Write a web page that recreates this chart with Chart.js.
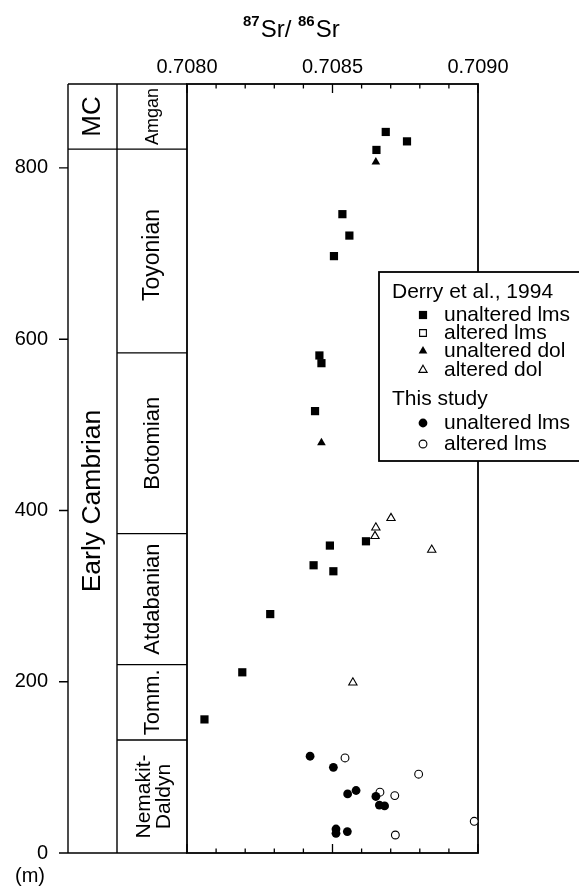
<!DOCTYPE html>
<html><head><meta charset="utf-8">
<script src="https://cdn.jsdelivr.net/npm/chart.js@4/dist/chart.umd.min.js"></script>
<style>html,body{margin:0;padding:0;background:#fff;overflow:hidden}</style>
</head><body>
<canvas id="c" width="579" height="886" style="width:579px;height:886px;display:block"></canvas>
<script>
// ---- axis ticks ----
const X_TICKS = [0.7080, 0.7085, 0.7090];
const X_MINOR = [0.7081, 0.7082, 0.7083, 0.7084, 0.7086, 0.7087, 0.7088, 0.7089];
const Y_TICKS = [0, 200, 400, 600, 800];
const X_MIN = 0.7080, X_MAX = 0.7090, Y_MIN = 0, Y_MAX = 898;

// ---- stratigraphic column (boundaries in m) ----
const STAGES = [['Amgan'], ['Toyonian'], ['Botomian'], ['Atdabanian'], ['Tomm.'], ['Nemakit-', 'Daldyn']];
const STAGE_BOUNDS = [898, 822, 584, 373, 220, 132, 0];
const ERAS = ['MC', 'Early Cambrian'];
const ERA_BOUNDS = [898, 822, 0];

// ---- data: Derry et al., 1994 ----
const derryUnaltLmsX = [0.708683, 0.708756, 0.708651, 0.708534, 0.708558, 0.708505, 0.708455, 0.708462, 0.708440, 0.708615, 0.708491, 0.708435, 0.708503, 0.708286, 0.708190, 0.708060];
const derryUnaltLmsY = [842, 831, 821, 746, 721, 697, 581, 572, 516, 364, 359, 336, 329, 279, 211, 156];
const derryAltLmsX = [];
const derryAltLmsY = [];
const derryUnaltDolX = [0.708649, 0.708462];
const derryUnaltDolY = [807, 479];
const derryAltDolX = [0.708701, 0.708649, 0.708646, 0.708841, 0.708570];
const derryAltDolY = [391, 380, 370, 354, 199];
// ---- data: This study ----
const studyUnaltLmsX = [0.708423, 0.708503, 0.708552, 0.708581, 0.708649, 0.708661, 0.708679, 0.708512, 0.708512, 0.708551];
const studyUnaltLmsY = [113, 100, 69, 73, 66, 56, 55, 28, 23, 25];
const studyAltLmsX = [0.708543, 0.708796, 0.708663, 0.708714, 0.708716, 0.708987];
const studyAltLmsY = [111, 92, 71, 67, 21, 37];

const FONT = '"Liberation Sans", Arial, Helvetica, sans-serif';
Chart.defaults.font.family = FONT;
Chart.defaults.color = '#000';

function pts(xs, ys) { return xs.map((x, i) => ({ x: x, y: ys[i] })); }

const STY = {
  sqF: { pointStyle: 'rect', radius: 5.8, backgroundColor: '#000', borderColor: '#000', borderWidth: 0 },
  sqO: { pointStyle: 'rect', radius: 4.8, backgroundColor: '#fff', borderColor: '#000', borderWidth: 1.1 },
  trF: { pointStyle: 'triangle', radius: 5, backgroundColor: '#000', borderColor: '#000', borderWidth: 0 },
  trO: { pointStyle: 'triangle', radius: 4.8, backgroundColor: '#fff', borderColor: '#000', borderWidth: 1.1 },
  ciF: { pointStyle: 'circle', radius: 4.4, backgroundColor: '#000', borderColor: '#000', borderWidth: 0 },
  ciO: { pointStyle: 'circle', radius: 3.9, backgroundColor: '#fff', borderColor: '#000', borderWidth: 1.1 }
};
function ds(label, data, s) {
  return { label: label, data: data, pointStyle: s.pointStyle, pointRadius: s.radius, pointHoverRadius: s.radius,
    pointBackgroundColor: s.backgroundColor, pointBorderColor: s.borderColor, pointBorderWidth: s.borderWidth,
    showLine: false, clip: false };
}

const LEGEND = [
  { head: 'Derry et al., 1994' },
  { text: 'unaltered lms', s: STY.sqF },
  { text: 'altered lms', s: STY.sqO },
  { text: 'unaltered dol', s: STY.trF },
  { text: 'altered dol', s: STY.trO },
  { head: 'This study' },
  { text: 'unaltered lms', s: STY.ciF },
  { text: 'altered lms', s: STY.ciO }
];
const LEGEND_Y = [292, 315, 333, 351, 370, 399, 423, 444];

const stratPlugin = {
  id: 'strat',
  beforeDatasetsDraw(chart) {
    const ctx = chart.ctx, ca = chart.chartArea;
    const xs = chart.scales.x, ys = chart.scales.y;
    ctx.save();
    ctx.strokeStyle = '#000';
    // plot frame
    ctx.lineWidth = 1.8;
    ctx.strokeRect(ca.left, ca.top, ca.right - ca.left, ca.bottom - ca.top);
    // x ticks (inward, top and bottom)
    ctx.lineWidth = 1.3;
    ctx.beginPath();
    X_TICKS.forEach(v => { const p = xs.getPixelForValue(v);
      ctx.moveTo(p, ca.top); ctx.lineTo(p, ca.top + 9);
      ctx.moveTo(p, ca.bottom); ctx.lineTo(p, ca.bottom - 9); });
    X_MINOR.forEach(v => { const p = xs.getPixelForValue(v);
      ctx.moveTo(p, ca.top); ctx.lineTo(p, ca.top + 4.5);
      ctx.moveTo(p, ca.bottom); ctx.lineTo(p, ca.bottom - 4.5); });
    ctx.stroke();

    // stratigraphic column
    const colL = 68, colM = 117, colR = ca.left;
    ctx.lineWidth = 1.4;
    ctx.beginPath();
    ctx.moveTo(colL, ca.top); ctx.lineTo(colL, ca.bottom);
    ctx.moveTo(colM, ca.top); ctx.lineTo(colM, ca.bottom);
    ctx.moveTo(colL, ca.top); ctx.lineTo(colR, ca.top);
    ctx.moveTo(colL, ca.bottom); ctx.lineTo(colR, ca.bottom);
    STAGE_BOUNDS.slice(1, -1).forEach(b => { const p = ys.getPixelForValue(b);
      ctx.moveTo(colM, p); ctx.lineTo(colR, p); });
    ERA_BOUNDS.slice(1, -1).forEach(b => { const p = ys.getPixelForValue(b);
      ctx.moveTo(colL, p); ctx.lineTo(colM, p); });
    // y ticks
    Y_TICKS.forEach(v => { const p = ys.getPixelForValue(v);
      ctx.moveTo(59, p); ctx.lineTo(colL, p); });
    ctx.stroke();

    ctx.fillStyle = '#000';
    ctx.textAlign = 'center';
    ctx.textBaseline = 'middle';
    // stage labels
    const SIZES = [18, 23, 22, 22, 22, 21];
    STAGES.forEach((lines, i) => {
      const yc = (ys.getPixelForValue(STAGE_BOUNDS[i]) + ys.getPixelForValue(STAGE_BOUNDS[i + 1])) / 2;
      ctx.font = SIZES[i] + 'px ' + FONT;
      ctx.save();
      ctx.translate(i === 5 ? 154 : 153, yc + (i === 1 ? 4 : 0));
      ctx.rotate(-Math.PI / 2);
      const lh = 20;
      lines.forEach((t, j) => ctx.fillText(t, 0, (j - (lines.length - 1) / 2) * lh));
      ctx.restore();
    });
    // era labels
    ERAS.forEach((t, i) => {
      const yc = (ys.getPixelForValue(ERA_BOUNDS[i]) + ys.getPixelForValue(ERA_BOUNDS[i + 1])) / 2;
      ctx.font = (i === 0 ? 26 : 26.5) + 'px ' + FONT;
      ctx.save();
      ctx.translate(93, i === 0 ? yc : 501);
      ctx.rotate(-Math.PI / 2);
      ctx.fillText(t, 0, 0);
      ctx.restore();
    });
    ctx.restore();
  },
  afterDraw(chart) {
    const ctx = chart.ctx;
    ctx.save();
    ctx.fillStyle = '#000';
    // title with superscripts
    ctx.textBaseline = 'alphabetic';
    ctx.textAlign = 'left';
    let x = 243;
    const sup = 'bold 15px ' + FONT, main = '24px ' + FONT;
    [['87', sup, 26], ['Sr/ ', main, 37], ['86', sup, 26], ['Sr', main, 37]].forEach(([t, f, yb]) => {
      ctx.font = f; ctx.fillText(t, x, yb); x += ctx.measureText(t).width + (f === sup ? 1 : 0);
    });
    // (m)
    ctx.font = '20px ' + FONT;
    ctx.textAlign = 'center';
    ctx.textBaseline = 'middle';
    ctx.fillText('(m)', 30, 876);

    // legend box
    ctx.fillStyle = '#fff';
    ctx.fillRect(379, 272, 240, 189);
    ctx.strokeStyle = '#000';
    ctx.lineWidth = 1.8;
    ctx.strokeRect(379, 272, 240, 189);
    ctx.textAlign = 'left';
    ctx.font = '21px ' + FONT;
    LEGEND.forEach((it, i) => {
      const y = LEGEND_Y[i];
      ctx.fillStyle = '#000';
      if (it.head) { ctx.fillText(it.head, 392, y); return; }
      ctx.fillStyle = it.s.backgroundColor;
      ctx.strokeStyle = it.s.borderColor;
      ctx.lineWidth = it.s.borderWidth;
      Chart.helpers.drawPoint(ctx, { pointStyle: it.s.pointStyle, radius: it.s.radius, rotation: 0, borderWidth: it.s.borderWidth }, 423, y);
      ctx.fillStyle = '#000';
      ctx.fillText(it.text, 444, y);
    });
    ctx.restore();
  }
};

new Chart(document.getElementById('c'), {
  type: 'scatter',
  data: {
    datasets: [
      ds('Derry unaltered lms', pts(derryUnaltLmsX, derryUnaltLmsY), STY.sqF),
      ds('Derry altered lms', pts(derryAltLmsX, derryAltLmsY), STY.sqO),
      ds('Derry unaltered dol', pts(derryUnaltDolX, derryUnaltDolY), STY.trF),
      ds('Derry altered dol', pts(derryAltDolX, derryAltDolY), STY.trO),
      ds('This study unaltered lms', pts(studyUnaltLmsX, studyUnaltLmsY), STY.ciF),
      ds('This study altered lms', pts(studyAltLmsX, studyAltLmsY), STY.ciO)
    ]
  },
  options: {
    responsive: false,
    devicePixelRatio: 1,
    animation: false,
    layout: { autoPadding: false, padding: { left: 0, right: 101, top: 0, bottom: 33 } },
    plugins: { legend: { display: false }, tooltip: { enabled: false } },
    scales: {
      x: {
        type: 'linear', position: 'top', min: X_MIN, max: X_MAX,
        afterBuildTicks: s => { s.ticks = X_TICKS.map(v => ({ value: v })); },
        afterFit: s => { s.height = 84; s.paddingLeft = 0; s.paddingRight = 0; },
        ticks: { callback: v => Number(v).toFixed(4), font: { size: 20 }, color: '#000', padding: 5, maxRotation: 0, autoSkip: false },
        grid: { display: false, drawTicks: false },
        border: { display: false }
      },
      y: {
        type: 'linear', position: 'left', min: Y_MIN, max: Y_MAX,
        afterBuildTicks: s => { s.ticks = Y_TICKS.map(v => ({ value: v })); },
        afterFit: s => { s.width = 187; s.paddingTop = 0; s.paddingBottom = 0; },
        ticks: { font: { size: 20 }, color: '#000', padding: 139, autoSkip: false },
        grid: { display: false, drawTicks: false },
        border: { display: false }
      }
    }
  },
  plugins: [stratPlugin]
});
</script>
</body></html>
